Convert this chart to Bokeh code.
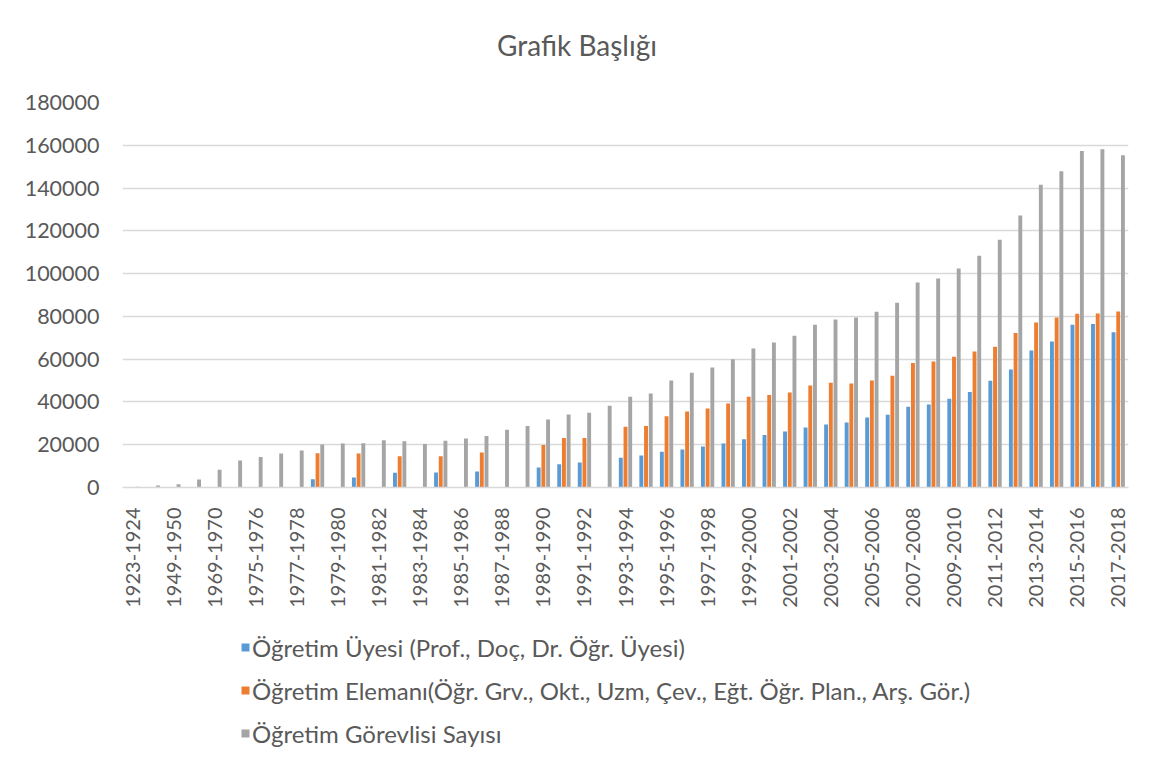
import numpy as np
from bokeh.plotting import figure
from bokeh.layouts import column
from bokeh.models import (ColumnDataSource, FixedTicker, Range1d, Legend, LegendItem,
                          NumeralTickFormatter, Label)
from bokeh.transform import dodge
from bokeh.embed import file_html
from bokeh.resources import INLINE

NaN = float("nan")

years = ["1923-1924", "1933-1934", "1949-1950", "1959-1960", "1969-1970", "1974-1975"] + \
        [f"{y}-{y+1}" for y in range(1975, 2018)]

uyesi = [NaN, NaN, NaN, NaN, NaN, NaN, NaN, NaN, NaN, 3900, NaN, 4700, NaN, 6900, NaN, 7000,
         NaN, 7500, NaN, NaN, 9300, 10900, 11700, NaN, 13900, 15000, 16700, 17800, 19200,
         20600, 22600, 24500, 26200, 28100, 29500, 30400, 32700, 34000, 37700, 38800, 41500,
         44700, 49900, 55200, 64100, 68300, 76100, 76500, 72600]

elemani = [NaN, NaN, NaN, NaN, NaN, NaN, NaN, NaN, NaN, 16000, NaN, 15900, NaN, 14600, NaN, 14600,
           NaN, 16400, NaN, NaN, 19900, 23200, 23200, NaN, 28400, 28800, 33300, 35500, 36900,
           39300, 42400, 43300, 44400, 47700, 49000, 48600, 50000, 52200, 58200, 58900, 61100,
           63600, 65800, 72200, 77200, 79500, 81200, 81400, 82300]

gorevlisi = [328, 900, 1500, 3700, 8300, 12600, 14300, 15900, 17300, 20100, 20600, 20700, 22100,
             21600, 20300, 21800, 22900, 24100, 27000, 28700, 31800, 34100, 34900, 38200, 42400,
             43900, 50000, 53600, 56100, 60000, 65000, 67800, 70900, 76100, 78600, 79500, 82200,
             86400, 95900, 97700, 102400, 108400, 115800, 127200, 141600, 147800, 157300,
             158100, 155300]

series_names = ["Öğretim Üyesi (Prof., Doç, Dr. Öğr. Üyesi)",
                "Öğretim Elemanı(Öğr. Grv., Okt., Uzm, Çev., Eğt. Öğr. Plan., Arş. Gör.)",
                "Öğretim Görevlisi Sayısı"]
colors = ["#5B9BD5", "#ED7D31", "#A5A5A5"]
title_text = "Grafik Başlığı"
yticks = list(range(0, 180001, 20000))

FONT = "Lato"
TXT = "#595959"
W = 1145

# ---------- title strip (frames of the column are aligned) ----------
tf = figure(width=W, height=80, output_backend="svg", toolbar_location=None,
            x_range=Range1d(0, 1), y_range=Range1d(0, 1),
            min_border_left=0, min_border_right=0, min_border_top=0, min_border_bottom=0)
tf.axis.visible = False
tf.grid.grid_line_color = None
tf.outline_line_color = None
tf.add_layout(Label(x=0.4518, y=0.44, text=title_text, text_font=FONT,
                    text_font_size="28px", text_color=TXT,
                    text_align="center", text_baseline="middle"))

# ---------- main chart ----------
src = ColumnDataSource(dict(idx=np.arange(len(years)),
                            a=np.array(uyesi, dtype=float),
                            b=np.array(elemani, dtype=float),
                            c=np.array(gorevlisi, dtype=float)))

p = figure(width=W, height=540, output_backend="svg", toolbar_location=None,
           x_range=Range1d(-0.5, len(years) - 0.5), y_range=Range1d(0, 180000),
           min_border_left=122, min_border_right=17, min_border_top=22, min_border_bottom=133)
p.outline_line_color = None
p.background_fill_color = "white"
p.border_fill_color = "white"

w = 0.19
off = 0.229
cols = ["a", "b", "c"]
offs = [-off, 0.0, off]
for col, o, c in zip(cols, offs, colors):
    p.vbar(x=dodge("idx", o, range=p.x_range), top=col, width=w, source=src,
           fill_color=c, line_color=None)

p.xaxis.ticker = FixedTicker(ticks=list(range(0, len(years), 2)))
p.xaxis.major_label_overrides = {i: years[i] for i in range(len(years))}
p.xaxis.major_label_orientation = np.pi / 2
p.xaxis.major_label_text_font = FONT
p.xaxis.major_label_text_font_size = "20px"
p.xaxis.major_label_text_color = TXT
p.xaxis.major_tick_line_color = None
p.xaxis.minor_tick_line_color = None
p.xaxis.axis_line_color = "#D9D9D9"
p.xaxis.axis_line_width = 1.5
p.xaxis.major_label_standoff = 14

p.yaxis.ticker = FixedTicker(ticks=yticks)
p.yaxis.formatter = NumeralTickFormatter(format="0")
p.yaxis.major_label_text_font = FONT
p.yaxis.major_label_text_font_size = "21.5px"
p.yaxis.major_label_text_color = TXT
p.yaxis.major_tick_line_color = None
p.yaxis.minor_tick_line_color = None
p.yaxis.axis_line_color = None
p.yaxis.major_label_standoff = 17

p.xgrid.grid_line_color = None
p.ygrid.grid_line_color = "#D9D9D9"
p.ygrid.grid_line_width = 1.3

# ---------- legend strip ----------
lf = figure(width=W, height=141, output_backend="svg", toolbar_location=None,
            x_range=Range1d(0, 1), y_range=Range1d(0, 1),
            min_border_left=0, min_border_right=0, min_border_top=0, min_border_bottom=0)
lf.axis.visible = False
lf.grid.grid_line_color = None
lf.outline_line_color = None
key_src = ColumnDataSource(dict(l=[-5.0], r=[-4.0], b=[-5.0], t=[-4.0]))
items = []
for name, c in zip(series_names, colors):
    r = lf.quad(left="l", right="r", bottom="b", top="t", source=key_src,
                fill_color=c, line_color=None)
    items.append(LegendItem(label=name, renderers=[r]))

legend = Legend(items=items, location=(118, 13), orientation="vertical")
legend.border_line_color = None
legend.background_fill_alpha = 0
legend.padding = 0
legend.margin = 0
legend.glyph_width = 10
legend.glyph_height = 10
legend.label_standoff = 2
legend.label_height = 30
legend.spacing = 13
legend.label_text_font = FONT
legend.label_text_font_size = "24px"
legend.label_text_color = TXT
lf.add_layout(legend, "center")

layout = column(tf, p, lf, spacing=0)
open("out.html", "w").write(file_html(layout, INLINE))
